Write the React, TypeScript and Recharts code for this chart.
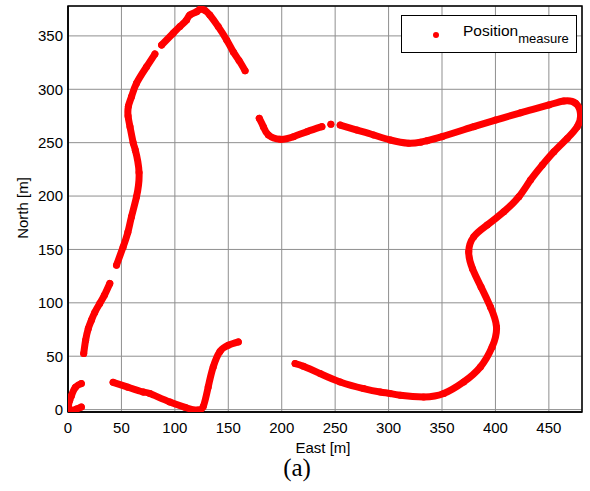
import React from "react";
import {
  ScatterChart,
  Scatter,
  XAxis,
  YAxis,
  CartesianGrid,
  ReferenceArea,
} from "recharts";

type Pt = [number, number];

const trackUpperA: Pt[] = [
  [14.7, 52.5], [16.5, 65], [19, 76], [21.9, 83.7], [25, 91], [29.7, 99.4], [34, 107], [39.1, 118.1],
];
const trackUpperB: Pt[] = [
  [45.4, 135.3], [51.6, 152.4], [56, 166], [59.4, 180.6], [64.1, 199.3], [66.5, 222], [63, 243],
  [61, 250], [58, 265], [56.2, 275], [56.5, 284], [59.4, 293], [64.1, 305.6], [73.5, 321], [81.3, 333],
];
const trackUpperC: Pt[] = [
  [87.6, 341.5], [98.4, 352.5], [104.7, 358.8], [111, 365], [114, 369.6], [120.4, 372.7], [123.5, 375],
  [128, 374], [132.7, 369.6], [140.6, 358.7], [148.5, 346.2], [154.7, 335], [160, 327], [165.7, 317.4],
];
const trackStart: Pt[] = [
  [12.5, 24.4], [7, 21], [3.2, 13], [1.6, 8.7], [0.5, 3], [3.2, -0.5], [8, 0.5], [12.5, 2.4],
];
const trackLowerLeft: Pt[] = [
  [42.2, 25.5], [56, 21], [70.3, 16.5], [76.6, 15], [95.3, 7.1], [110, 2], [117.2, -0.3], [122, -0.3],
  [126.6, 3], [131.2, 21.2], [135.9, 40], [142.2, 54.5], [150, 60.3], [159.4, 63.4],
];
const trackRightA: Pt[] = [
  [179, 272.8], [182.8, 265], [187.5, 257.2], [198.5, 253.1], [211, 255.6], [223.5, 260.3], [237.6, 265],
];
const trackRightDot: Pt[] = [[246, 267.2]];
const trackRightB: Pt[] = [
  [254.7, 266.5], [270.4, 261.8], [286, 257.2], [301.6, 252.5], [318.8, 249.4], [330, 250.5], [336, 251.8],
  [350, 255.6], [379.7, 265], [400, 271.2], [423.5, 278], [450, 285.3], [464, 289], [475, 286.9],
  [479.7, 276], [476.6, 265], [467.2, 254], [454.7, 241.5], [443.8, 229], [432.8, 215], [421.9, 199.3],
  [407.8, 185.3], [392.2, 172.8], [379.7, 161.9], [375, 147.8], [378.5, 132], [386.5, 114.9],
  [395.3, 96.2], [401, 77.4], [396.9, 58.7], [385.9, 39.9], [370.3, 25.9], [351.6, 15], [332.8, 11.8],
  [311, 13.4], [301.6, 15], [292.2, 16.5], [276.6, 19.7], [254.7, 25.9], [236, 33.7], [220.3, 40.6],
  [212.5, 43.1],
];

const segments = [
  trackUpperA, trackUpperB, trackUpperC, trackStart, trackLowerLeft,
  trackRightA, trackRightDot, trackRightB,
];

const xTicks = [0, 50, 100, 150, 200, 250, 300, 350, 400, 450];
const yTicks = [0, 50, 100, 150, 200, 250, 300, 350];

const RED = "#ff0000";
const FONT = "'Liberation Sans', Arial, sans-serif";

const Dot = (props: any) => <circle cx={props.cx} cy={props.cy} r={3.5} fill={RED} />;

export default function App() {
  return (
    <div style={{ position: "absolute", left: 0, top: 0, width: 590, height: 491, background: "#fff", fontFamily: FONT }}>
      <ScatterChart width={590} height={491} margin={{ top: 6, right: 8, left: 0, bottom: 0 }}>
        <CartesianGrid stroke="#8f8f8f" strokeWidth={1} />
        <XAxis
          type="number"
          dataKey="x"
          domain={[0, 481]}
          ticks={xTicks}
          height={79}
          tickLine={false}
          tickSize={0}
          tickMargin={10}
          axisLine={{ stroke: "#000", strokeWidth: 1.5 }}
          tick={{ fill: "#000", fontSize: 15, fontFamily: FONT }}
          allowDataOverflow
        />
        <YAxis
          type="number"
          dataKey="y"
          domain={[-2.25, 378]}
          ticks={yTicks}
          width={68}
          tickLine={false}
          tickSize={0}
          tickMargin={5}
          axisLine={{ stroke: "#000", strokeWidth: 1.5 }}
          tick={{ fill: "#000", fontSize: 15, fontFamily: FONT }}
          allowDataOverflow
        />
        <ReferenceArea x1={0} x2={481} y1={-2.25} y2={378} fill="none" stroke="#000" strokeWidth={1.5} />
        {segments.map((seg, i) => (
          <Scatter
            key={i}
            data={seg.map(([x, y]) => ({ x, y }))}
            fill={RED}
            shape={Dot}
            line={{ stroke: RED, strokeWidth: 7, strokeLinecap: "round", strokeLinejoin: "round" }}
            lineType="joint"
            lineJointType="natural"
            isAnimationActive={false}
          />
        ))}
      </ScatterChart>

      <div
        style={{
          position: "absolute", left: 401, top: 15, width: 174, height: 36,
          border: "1px solid #000", background: "#fff",
        }}
      >
        <div style={{ position: "absolute", left: 31, top: 16, width: 6, height: 6, borderRadius: 3, background: RED }} />
        <div style={{ position: "absolute", left: 61, top: 6, fontSize: 15.5, lineHeight: "18px", color: "#000", whiteSpace: "nowrap" }}>
          Position
          <span style={{ fontSize: 13, position: "relative", top: 7 }}>measure</span>
        </div>
      </div>

      <div
        style={{
          position: "absolute", left: 323, top: 439, transform: "translateX(-50%)",
          fontSize: 15, color: "#000", whiteSpace: "nowrap",
        }}
      >
        East [m]
      </div>
      <div
        style={{
          position: "absolute", left: 22, top: 208, fontSize: 15, color: "#000", whiteSpace: "nowrap",
          transform: "translate(-50%, -50%) rotate(-90deg)",
        }}
      >
        North [m]
      </div>
      <div
        style={{
          position: "absolute", left: 297, top: 454, transform: "translateX(-50%)",
          fontFamily: "'Liberation Serif', 'Times New Roman', serif", fontSize: 25, color: "#000", lineHeight: "28px",
        }}
      >
        (a)
      </div>
    </div>
  );
}
